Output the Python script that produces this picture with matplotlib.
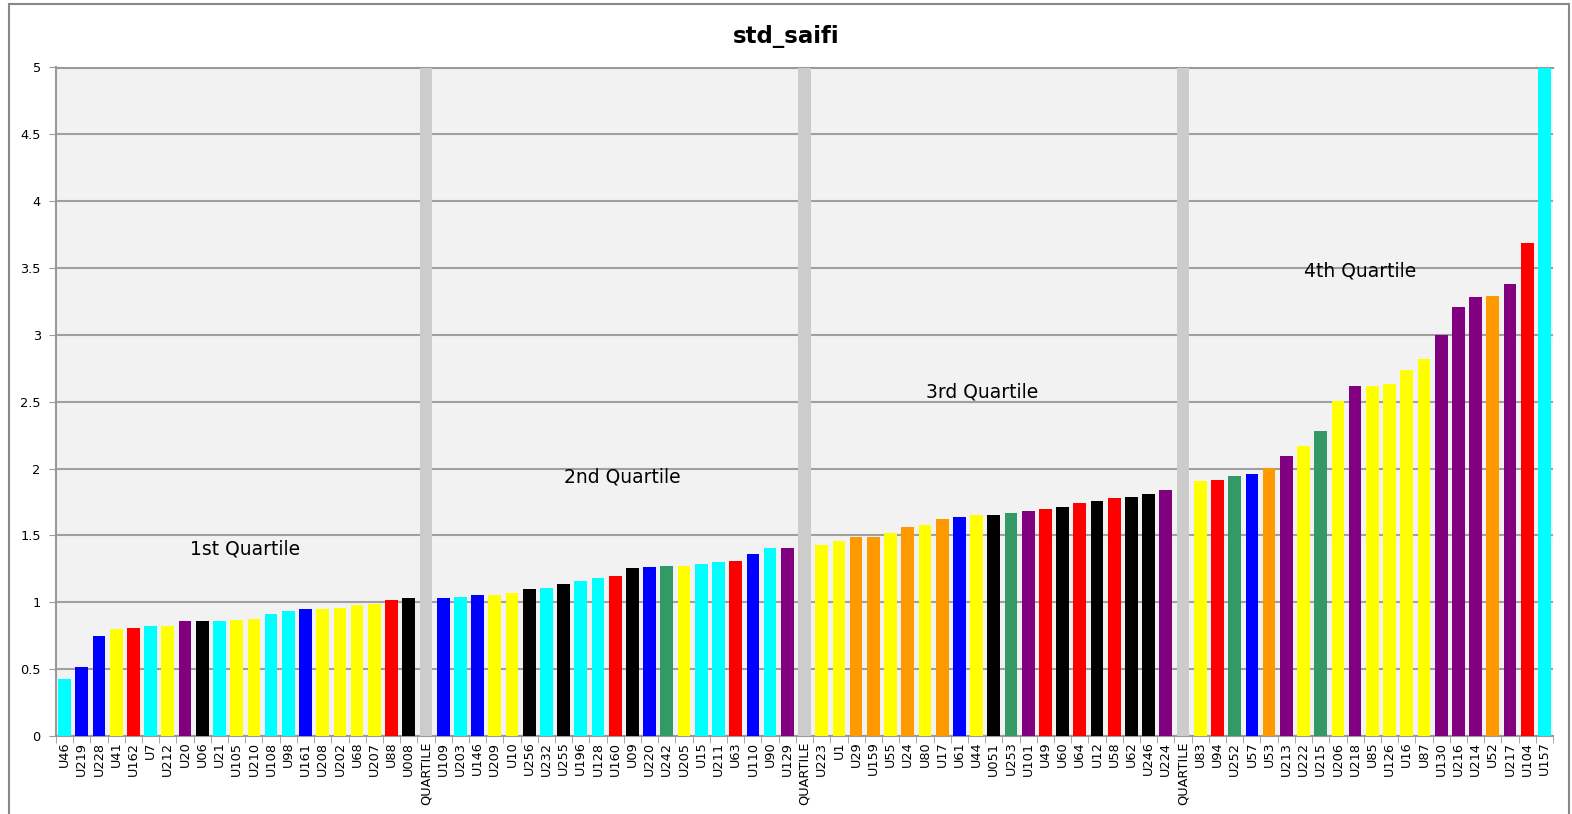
import matplotlib
matplotlib.use("Agg")
import matplotlib.pyplot as plt
from matplotlib.patches import Rectangle

# feeders per quartile, sorted by std_saifi
q1_names = ["U46", "U219", "U228", "U41", "U162", "U7", "U212", "U20", "U06", "U21", "U105",
            "U210", "U108", "U98", "U161", "U208", "U202", "U68", "U207", "U88", "U008"]
q1_vals = [0.425, 0.515, 0.75, 0.80, 0.81, 0.825, 0.825, 0.857, 0.857, 0.862, 0.87,
           0.877, 0.915, 0.935, 0.95, 0.95, 0.96, 0.977, 0.987, 1.015, 1.03]
q1_grp = ["C", "B", "B", "Y", "R", "C", "Y", "P", "K", "C", "Y",
          "Y", "C", "C", "B", "Y", "Y", "Y", "Y", "R", "K"]

q2_names = ["U109", "U203", "U146", "U209", "U10", "U256", "U232", "U255", "U196", "U128", "U160",
            "U09", "U220", "U242", "U205", "U15", "U211", "U63", "U110", "U90", "U129"]
q2_vals = [1.035, 1.042, 1.052, 1.057, 1.072, 1.097, 1.106, 1.139, 1.161, 1.183, 1.20,
           1.255, 1.265, 1.27, 1.27, 1.287, 1.302, 1.309, 1.361, 1.403, 1.408]
q2_grp = ["B", "C", "B", "Y", "Y", "K", "C", "K", "C", "C", "R",
          "K", "B", "G", "Y", "C", "C", "R", "B", "C", "P"]

q3_names = ["U223", "U1", "U29", "U159", "U55", "U24", "U80", "U17", "U61", "U44", "U051",
            "U253", "U101", "U49", "U60", "U64", "U12", "U58", "U62", "U246", "U224"]
q3_vals = [1.43, 1.455, 1.49, 1.49, 1.52, 1.565, 1.575, 1.625, 1.635, 1.65, 1.652,
           1.668, 1.683, 1.70, 1.71, 1.743, 1.758, 1.78, 1.79, 1.81, 1.843]
q3_grp = ["Y", "Y", "O", "O", "Y", "O", "Y", "O", "B", "Y", "K",
          "G", "P", "R", "K", "R", "K", "R", "K", "K", "P"]

q4_names = ["U83", "U94", "U252", "U57", "U53", "U213", "U222", "U215", "U206", "U218", "U85",
            "U126", "U16", "U87", "U130", "U216", "U214", "U52", "U217", "U104", "U157"]
q4_vals = [1.905, 1.912, 1.943, 1.96, 2.008, 2.095, 2.17, 2.28, 2.505, 2.62, 2.62,
           2.63, 2.74, 2.82, 3.0, 3.21, 3.28, 3.29, 3.38, 3.685, 5.2]
q4_grp = ["Y", "R", "G", "B", "O", "P", "Y", "G", "Y", "P", "Y",
          "Y", "Y", "Y", "P", "P", "P", "O", "P", "R", "C"]

quartile_labels = ["1st Quartile", "2nd Quartile", "3rd Quartile", "4th Quartile"]
quartile_label_pos = [(10.5, 1.40), (32.4, 1.94), (53.3, 2.57), (75.3, 3.48)]

colors = {"C": "#00ffff", "B": "#0000ff", "Y": "#ffff00", "R": "#ff0000", "P": "#800080",
          "K": "#000000", "G": "#339966", "O": "#ff9900", "Q": "#cccccc"}
y_max = 5

# build one long series with a grey separator between quartiles
names, vals, grps = [], [], []
for i, (n, v, g) in enumerate([(q1_names, q1_vals, q1_grp), (q2_names, q2_vals, q2_grp),
                               (q3_names, q3_vals, q3_grp), (q4_names, q4_vals, q4_grp)]):
    if i > 0:
        names.append("QUARTILE")
        vals.append(y_max)
        grps.append("Q")
    names += n
    vals += v
    grps += g

fig = plt.figure(figsize=(15.72, 8.14), dpi=100)
ax = fig.add_axes([56 / 1572, 1 - 736 / 814, 1497 / 1572, 668.5 / 814])
ax.set_facecolor("#f2f2f2")

x = range(len(names))
ax.bar(x, vals, width=0.74, color=[colors[g] for g in grps], zorder=3)

ax.set_xlim(-0.5, len(names) - 0.5)
ax.set_ylim(0, y_max)
ax.set_yticks([0, 0.5, 1, 1.5, 2, 2.5, 3, 3.5, 4, 4.5, 5])
ax.set_yticklabels(["0", "0.5", "1", "1.5", "2", "2.5", "3", "3.5", "4", "4.5", "5"])
ax.yaxis.grid(True, color="#a0a0a0", linewidth=1.5, zorder=1)
ax.set_xticks(list(x))
ax.set_xticklabels(names, rotation=90, fontsize=9.3)
ax.set_xticks([i - 0.5 for i in range(len(names) + 1)], minor=True)
ax.tick_params(axis="x", which="major", length=0, pad=4)
ax.tick_params(axis="x", which="minor", length=5, color="#999999")
ax.tick_params(axis="y", length=5, color="#999999", labelsize=9.3, pad=6)

ax.spines["right"].set_visible(False)
for s in ["left", "bottom", "top"]:
    ax.spines[s].set_color("#999999")
    ax.spines[s].set_linewidth(1.5)

for lab, (lx, ly) in zip(quartile_labels, quartile_label_pos):
    ax.text(lx, ly, lab, ha="center", va="center", fontsize=13.5, zorder=4)

fig.text(786 / 1572, 1 - 37 / 814, "std_saifi", ha="center", va="center",
         fontsize=16.5, fontweight="bold")

# outer chart frame
fig.patches.append(Rectangle((9 / 1572, -0.05), 1560 / 1572, 1.05 - 4.5 / 814,
                             transform=fig.transFigure, fill=False,
                             edgecolor="#888888", linewidth=1.5))

fig.savefig("out.png", dpi=100)
